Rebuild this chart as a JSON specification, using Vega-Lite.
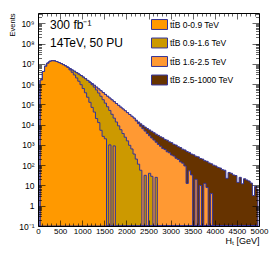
{
  "$schema": "https://vega.github.io/schema/vega-lite/v6.json",
  "width": 221,
  "height": 213,
  "autosize": {"type": "none"},
  "padding": {"left": 38, "top": 13, "right": 11, "bottom": 33},
  "background": "white",
  "config": {
    "view": {"stroke": "black", "strokeWidth": 1},
    "font": "Liberation Sans",
    "text": {"font": "Liberation Sans"}
  },
  "data": {"values": [
    {"ht":25,"a":0,"b":0,"c":0,"d":0},
    {"ht":75,"a":1.58e6,"b":1.58e6,"c":1.58e6,"d":1.58e6},
    {"ht":125,"a":4.17e6,"b":4.17e6,"c":4.17e6,"d":4.17e6},
    {"ht":175,"a":7.59e6,"b":7.59e6,"c":7.59e6,"d":7.59e6},
    {"ht":225,"a":1.07e7,"b":1.07e7,"c":1.07e7,"d":1.07e7},
    {"ht":275,"a":1.32e7,"b":1.32e7,"c":1.32e7,"d":1.32e7},
    {"ht":325,"a":1.41e7,"b":1.41e7,"c":1.41e7,"d":1.41e7},
    {"ht":375,"a":1.38e7,"b":1.38e7,"c":1.38e7,"d":1.38e7},
    {"ht":425,"a":1.29e7,"b":1.29e7,"c":1.29e7,"d":1.29e7},
    {"ht":475,"a":1.15e7,"b":1.15e7,"c":1.15e7,"d":1.15e7},
    {"ht":525,"a":1.02e7,"b":1.02e7,"c":1.02e7,"d":1.02e7},
    {"ht":575,"a":8.91e6,"b":8.91e6,"c":8.91e6,"d":8.91e6},
    {"ht":625,"a":7.76e6,"b":7.76e6,"c":7.76e6,"d":7.76e6},
    {"ht":675,"a":6.61e6,"b":6.76e6,"c":6.76e6,"d":6.76e6},
    {"ht":725,"a":5.01e6,"b":5.75e6,"c":5.75e6,"d":5.75e6},
    {"ht":775,"a":3.80e6,"b":4.90e6,"c":4.90e6,"d":4.90e6},
    {"ht":825,"a":2.82e6,"b":4.27e6,"c":4.27e6,"d":4.27e6},
    {"ht":875,"a":2.00e6,"b":3.63e6,"c":3.63e6,"d":3.63e6},
    {"ht":925,"a":1.38e6,"b":3.09e6,"c":3.09e6,"d":3.09e6},
    {"ht":975,"a":9.33e5,"b":2.63e6,"c":2.63e6,"d":2.63e6},
    {"ht":1025,"a":6.03e5,"b":2.19e6,"c":2.19e6,"d":2.19e6},
    {"ht":1075,"a":3.72e5,"b":1.82e6,"c":1.82e6,"d":1.82e6},
    {"ht":1125,"a":2.24e5,"b":1.51e6,"c":1.51e6,"d":1.51e6},
    {"ht":1175,"a":1.26e5,"b":1.20e6,"c":1.26e6,"d":1.26e6},
    {"ht":1225,"a":7.08e4,"b":9.33e5,"c":1.05e6,"d":1.05e6},
    {"ht":1275,"a":4.17e4,"b":7.08e5,"c":8.71e5,"d":8.71e5},
    {"ht":1325,"a":2.00e4,"b":5.13e5,"c":7.08e5,"d":7.08e5},
    {"ht":1375,"a":1.26e4,"b":3.63e5,"c":5.75e5,"d":5.75e5},
    {"ht":1425,"a":5.25e3,"b":2.51e5,"c":4.68e5,"d":4.68e5},
    {"ht":1475,"a":2.63e3,"b":1.70e5,"c":3.80e5,"d":3.80e5},
    {"ht":1525,"a":2.00e3,"b":1.15e5,"c":3.09e5,"d":3.09e5},
    {"ht":1575,"a":0,"b":7.59e4,"c":2.51e5,"d":2.51e5},
    {"ht":1625,"a":1.00e3,"b":5.01e4,"c":2.04e5,"d":2.04e5},
    {"ht":1675,"a":0,"b":3.24e4,"c":1.66e5,"d":1.66e5},
    {"ht":1725,"a":891,"b":2.09e4,"c":1.35e5,"d":1.35e5},
    {"ht":1775,"a":0,"b":1.35e4,"c":1.10e5,"d":1.10e5},
    {"ht":1825,"a":0,"b":8.71e3,"c":8.91e4,"d":8.91e4},
    {"ht":1875,"a":0,"b":5.62e3,"c":7.24e4,"d":7.24e4},
    {"ht":1925,"a":0,"b":3.63e3,"c":5.89e4,"d":5.89e4},
    {"ht":1975,"a":0,"b":2.40e3,"c":4.79e4,"d":4.79e4},
    {"ht":2025,"a":0,"b":1.58e3,"c":3.89e4,"d":3.89e4},
    {"ht":2075,"a":0,"b":955,"c":3.16e4,"d":3.16e4},
    {"ht":2125,"a":0,"b":631,"c":2.57e4,"d":2.57e4},
    {"ht":2175,"a":0,"b":355,"c":2.09e4,"d":2.09e4},
    {"ht":2225,"a":0,"b":200,"c":1.51e4,"d":1.66e4},
    {"ht":2275,"a":0,"b":112,"c":1.12e4,"d":1.35e4},
    {"ht":2325,"a":0,"b":56.2,"c":8.32e3,"d":1.10e4},
    {"ht":2375,"a":0,"b":0,"c":6.31e3,"d":9.12e3},
    {"ht":2425,"a":0,"b":31.6,"c":4.79e3,"d":7.59e3},
    {"ht":2475,"a":0,"b":0,"c":3.63e3,"d":6.46e3},
    {"ht":2525,"a":0,"b":39.8,"c":2.82e3,"d":5.50e3},
    {"ht":2575,"a":0,"b":28.2,"c":2.19e3,"d":4.68e3},
    {"ht":2625,"a":0,"b":0,"c":1.74e3,"d":3.98e3},
    {"ht":2675,"a":0,"b":25.1,"c":1.35e3,"d":3.39e3},
    {"ht":2725,"a":0,"b":0,"c":1.05e3,"d":2.95e3},
    {"ht":2775,"a":0,"b":0,"c":851,"d":2.51e3},
    {"ht":2825,"a":0,"b":0,"c":661,"d":2.24e3},
    {"ht":2875,"a":0,"b":0,"c":589,"d":1.86e3},
    {"ht":2925,"a":0,"b":0,"c":457,"d":1.70e3},
    {"ht":2975,"a":0,"b":0,"c":407,"d":1.41e3},
    {"ht":3025,"a":0,"b":0,"c":316,"d":1.29e3},
    {"ht":3075,"a":0,"b":0,"c":282,"d":1.07e3},
    {"ht":3125,"a":0,"b":0,"c":219,"d":977},
    {"ht":3175,"a":0,"b":0,"c":191,"d":813},
    {"ht":3225,"a":0,"b":0,"c":145,"d":741},
    {"ht":3275,"a":0,"b":0,"c":126,"d":617},
    {"ht":3325,"a":0,"b":0,"c":91.2,"d":562},
    {"ht":3375,"a":0,"b":0,"c":12.6,"d":468},
    {"ht":3425,"a":0,"b":0,"c":52.5,"d":427},
    {"ht":3475,"a":0,"b":0,"c":33.1,"d":355},
    {"ht":3525,"a":0,"b":0,"c":0,"d":324},
    {"ht":3575,"a":0,"b":0,"c":20.0,"d":275},
    {"ht":3625,"a":0,"b":0,"c":0,"d":257},
    {"ht":3675,"a":0,"b":0,"c":10.0,"d":214},
    {"ht":3725,"a":0,"b":0,"c":0,"d":200},
    {"ht":3775,"a":0,"b":0,"c":12.6,"d":166},
    {"ht":3825,"a":0,"b":0,"c":7.94,"d":155},
    {"ht":3875,"a":0,"b":0,"c":0,"d":129},
    {"ht":3925,"a":0,"b":0,"c":3.98,"d":117},
    {"ht":3975,"a":0,"b":0,"c":0,"d":100},
    {"ht":4025,"a":0,"b":0,"c":0,"d":91.2},
    {"ht":4075,"a":0,"b":0,"c":0,"d":77.6},
    {"ht":4125,"a":0,"b":0,"c":0,"d":72.4},
    {"ht":4175,"a":0,"b":0,"c":0,"d":60.3},
    {"ht":4225,"a":0,"b":0,"c":0,"d":56.2},
    {"ht":4275,"a":0,"b":0,"c":0,"d":22.4},
    {"ht":4325,"a":0,"b":0,"c":0,"d":43.7},
    {"ht":4375,"a":0,"b":0,"c":0,"d":39.8},
    {"ht":4425,"a":0,"b":0,"c":0,"d":33.1},
    {"ht":4475,"a":0,"b":0,"c":0,"d":30.9},
    {"ht":4525,"a":0,"b":0,"c":0,"d":14.1},
    {"ht":4575,"a":0,"b":0,"c":0,"d":25.1},
    {"ht":4625,"a":0,"b":0,"c":0,"d":12.0},
    {"ht":4675,"a":0,"b":0,"c":0,"d":21.4},
    {"ht":4725,"a":0,"b":0,"c":0,"d":18.6},
    {"ht":4775,"a":0,"b":0,"c":0,"d":16.6},
    {"ht":4825,"a":0,"b":0,"c":0,"d":13.2},
    {"ht":4875,"a":0,"b":0,"c":0,"d":3.16},
    {"ht":4925,"a":0,"b":0,"c":0,"d":8.91},
    {"ht":4975,"a":0,"b":0,"c":0,"d":6.31}
  ]},
  "layer": [
    {
      "mark": {"type": "area", "interpolate": "step", "stroke": "#333399", "strokeWidth": 1, "opacity": 1, "clip": true},
      "encoding": {
        "x": {"field": "ht", "type": "quantitative",
          "scale": {"domain": [0, 5000], "nice": false, "zero": false},
          "axis": {
            "values": [0,100,200,300,400,500,600,700,800,900,1000,1100,1200,1300,1400,1500,1600,1700,1800,1900,2000,2100,2200,2300,2400,2500,2600,2700,2800,2900,3000,3100,3200,3300,3400,3500,3600,3700,3800,3900,4000,4100,4200,4300,4400,4500,4600,4700,4800,4900,5000],
            "labelExpr": "datum.value % 500 == 0 ? format(datum.value, 'd') : ''",
            "tickSize": {"condition": {"test": "datum.value % 500 == 0", "value": -6}, "value": -3},
            "tickColor": "black", "tickWidth": 0.6,
            "domain": false, "grid": false, "zindex": 1,
            "labelFontSize": 8, "labelColor": "black", "labelPadding": 7,
            "labelOverlap": false, "labelFlush": false,
            "title": "Hₜ [GeV]", "titleFontSize": 9, "titleFontWeight": "normal", "titleColor": "black",
            "titleX": 221, "titleY": 17.5, "titleAlign": "right", "titleBaseline": "alphabetic", "titleAnchor": "end"
          }
        },
        "y": {"field": "d", "type": "quantitative", "stack": null,
          "scale": {"type": "log", "domain": [0.1, 3.2e9], "nice": false, "clamp": true},
          "axis": {
            "values": [0.1,0.2,0.3,0.4,0.5,0.6,0.7,0.8,0.9,1,2,3,4,5,6,7,8,9,10,20,30,40,50,60,70,80,90,100,200,300,400,500,600,700,800,900,1000,2000,3000,4000,5000,6000,7000,8000,9000,1e4,2e4,3e4,4e4,5e4,6e4,7e4,8e4,9e4,1e5,2e5,3e5,4e5,5e5,6e5,7e5,8e5,9e5,1e6,2e6,3e6,4e6,5e6,6e6,7e6,8e6,9e6,1e7,2e7,3e7,4e7,5e7,6e7,7e7,8e7,9e7,1e8,2e8,3e8,4e8,5e8,6e8,7e8,8e8,9e8,1e9,2e9,3e9],
            "labelExpr": "abs(log(datum.value)/LN10 - round(log(datum.value)/LN10)) > 0.001 ? '' : (round(log(datum.value)/LN10) == 0 ? '1' : (round(log(datum.value)/LN10) == 1 ? '10' : '10' + ['⁻¹','','','²','³','⁴','⁵','⁶','⁷','⁸','⁹'][round(log(datum.value)/LN10) + 1]))",
            "tickSize": {"condition": {"test": "abs(log(datum.value)/LN10 - round(log(datum.value)/LN10)) < 0.001", "value": -7}, "value": -3.5},
            "tickColor": "black", "tickWidth": 0.6,
            "domain": false, "grid": false, "zindex": 1,
            "labelFontSize": 8.5, "labelColor": "black", "labelPadding": 11,
            "labelOverlap": false, "labelFlush": false,
            "title": "Events", "titleFontSize": 7.5, "titleFontWeight": "normal", "titleColor": "black",
            "titleX": -22, "titleY": 0, "titleAngle": -90, "titleAlign": "right", "titleBaseline": "bottom", "titleAnchor": "end"
          }
        },
        "color": {"datum": "tt̄B 2.5-1000 TeV", "type": "nominal",
          "scale": {"domain": ["tt̄B 0-0.9 TeV", "tt̄B 0.9-1.6 TeV", "tt̄B 1.6-2.5 TeV", "tt̄B 2.5-1000 TeV"],
                    "range": ["#ff9900", "#cc9900", "#ff9933", "#663300"]},
          "legend": {"orient": "none", "legendX": 113, "legendY": 3, "title": null, "padding": 0,
            "symbolType": "M-1,-0.62H1V0.62H-1Z", "symbolSize": 256, "symbolStrokeColor": "#333399", "symbolStrokeWidth": 1, "symbolOpacity": 1,
            "labelFontSize": 8.5, "labelFont": "Liberation Sans", "labelColor": "black", "labelOffset": 2, "rowPadding": 2.5}
        }
      }
    },
    {
      "mark": {"type": "area", "interpolate": "step", "stroke": "#333399", "strokeWidth": 1, "opacity": 1, "clip": true},
      "encoding": {
        "x": {"field": "ht", "type": "quantitative",
          "axis": {
            "orient": "top",
            "values": [0,100,200,300,400,500,600,700,800,900,1000,1100,1200,1300,1400,1500,1600,1700,1800,1900,2000,2100,2200,2300,2400,2500,2600,2700,2800,2900,3000,3100,3200,3300,3400,3500,3600,3700,3800,3900,4000,4100,4200,4300,4400,4500,4600,4700,4800,4900,5000],
            "labels": false, "title": null, "domain": false, "grid": false, "zindex": 1,
            "tickSize": {"condition": {"test": "datum.value % 500 == 0", "value": -6}, "value": -3},
            "tickColor": "black", "tickWidth": 0.6
          }
        },
        "y": {"field": "c", "type": "quantitative", "stack": null,
          "axis": {
            "orient": "right",
            "values": [0.1,0.2,0.3,0.4,0.5,0.6,0.7,0.8,0.9,1,2,3,4,5,6,7,8,9,10,20,30,40,50,60,70,80,90,100,200,300,400,500,600,700,800,900,1000,2000,3000,4000,5000,6000,7000,8000,9000,1e4,2e4,3e4,4e4,5e4,6e4,7e4,8e4,9e4,1e5,2e5,3e5,4e5,5e5,6e5,7e5,8e5,9e5,1e6,2e6,3e6,4e6,5e6,6e6,7e6,8e6,9e6,1e7,2e7,3e7,4e7,5e7,6e7,7e7,8e7,9e7,1e8,2e8,3e8,4e8,5e8,6e8,7e8,8e8,9e8,1e9,2e9,3e9],
            "labels": false, "title": null, "domain": false, "grid": false, "zindex": 1,
            "tickSize": {"condition": {"test": "abs(log(datum.value)/LN10 - round(log(datum.value)/LN10)) < 0.001", "value": -7}, "value": -3.5},
            "tickColor": "black", "tickWidth": 0.6
          }
        },
        "color": {"datum": "tt̄B 1.6-2.5 TeV", "type": "nominal"}
      }
    },
    {
      "mark": {"type": "area", "interpolate": "step", "stroke": "#333399", "strokeWidth": 1, "opacity": 1, "clip": true},
      "encoding": {
        "x": {"field": "ht", "type": "quantitative", "axis": null},
        "y": {"field": "b", "type": "quantitative", "stack": null, "axis": null},
        "color": {"datum": "tt̄B 0.9-1.6 TeV", "type": "nominal"}
      }
    },
    {
      "mark": {"type": "area", "interpolate": "step", "stroke": "#333399", "strokeWidth": 1, "opacity": 1, "clip": true},
      "encoding": {
        "x": {"field": "ht", "type": "quantitative", "axis": null},
        "y": {"field": "a", "type": "quantitative", "stack": null, "axis": null},
        "color": {"datum": "tt̄B 0-0.9 TeV", "type": "nominal"}
      }
    },
    {
      "data": {"values": [{}]},
      "mark": {"type": "text", "align": "left", "baseline": "alphabetic", "fontSize": 12, "color": "black"},
      "encoding": {
        "x": {"datum": 272, "type": "quantitative", "axis": null},
        "y": {"datum": 5.18e8, "type": "quantitative", "axis": null},
        "text": {"value": "300 fb⁻¹"}
      }
    },
    {
      "data": {"values": [{}]},
      "mark": {"type": "text", "align": "left", "baseline": "alphabetic", "fontSize": 12, "color": "black"},
      "encoding": {
        "x": {"datum": 272, "type": "quantitative", "axis": null},
        "y": {"datum": 6.93e7, "type": "quantitative", "axis": null},
        "text": {"value": "14TeV, 50 PU"}
      }
    }
  ],
  "resolve": {"axis": {"x": "independent", "y": "independent"}}
}
